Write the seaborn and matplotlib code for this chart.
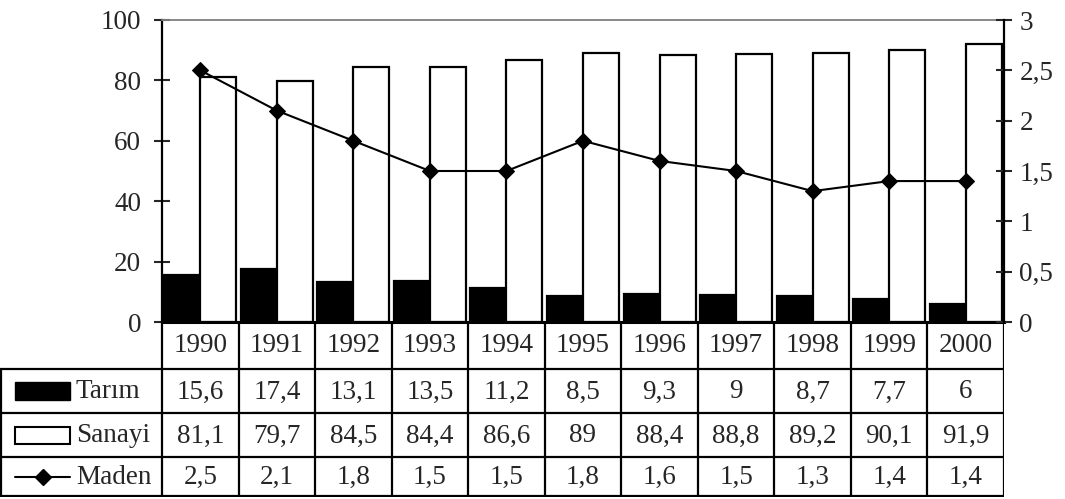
import numpy as np
import pandas as pd
import matplotlib
matplotlib.use("Agg")
import matplotlib.pyplot as plt
from matplotlib.patches import Rectangle
from matplotlib.lines import Line2D
from matplotlib.ticker import FuncFormatter
import seaborn as sns

# data
years = ["1990", "1991", "1992", "1993", "1994", "1995", "1996", "1997", "1998", "1999", "2000"]
tarim = [15.6, 17.4, 13.1, 13.5, 11.2, 8.5, 9.3, 9, 8.7, 7.7, 6]
sanayi = [81.1, 79.7, 84.5, 84.4, 86.6, 89, 88.4, 88.8, 89.2, 90.1, 91.9]
maden = [2.5, 2.1, 1.8, 1.5, 1.5, 1.8, 1.6, 1.5, 1.3, 1.4, 1.4]
series = ["Tarım", "Sanayi", "Maden"]

sns.set_style("white")
plt.rcParams["font.family"] = ["Liberation Serif", "DejaVu Serif"]
FS = 19.5


def tr(v):
    # turkish decimal comma
    return f"{v:g}".replace(".", ",")


df = pd.DataFrame({"year": years * 2,
                   "seri": ["Tarım"] * len(years) + ["Sanayi"] * len(years),
                   "deger": tarim + sanayi})

W, H = 1065, 499
L, R, T, B, TB = 162, 1004, 20, 322, 497
n = len(years)
cw = (R - L) / n

fig = plt.figure(figsize=(W / 100, H / 100), dpi=100)
ax = fig.add_axes([L / W, (H - B) / H, (R - L) / W, (B - T) / H])

sns.barplot(data=df, x="year", y="deger", hue="seri", hue_order=["Tarım", "Sanayi"],
            palette={"Tarım": "black", "Sanayi": "white"}, edgecolor="black",
            linewidth=1.6, width=0.94, legend=False, ax=ax)
ax.set_ylim(0, 100)
ax.set_yticks([0, 20, 40, 60, 80, 100])
ax.set_xlim(-0.5, n - 0.5)
ax.set_xticks([])
ax.set_xlabel("")
ax.set_ylabel("")
ax.tick_params(axis="y", direction="inout", length=12, width=1.5, labelsize=FS, pad=9, left=True)
for s in ["left", "bottom"]:
    ax.spines[s].set_color("black")
ax.spines["left"].set_linewidth(1.6)
ax.spines["bottom"].set_linewidth(2.2)
ax.spines["top"].set_color("#808080")
ax.spines["top"].set_linewidth(1.3)
ax.spines["right"].set_visible(False)

ax2 = ax.twinx()
sns.lineplot(x=np.arange(n), y=maden, ax=ax2, color="black", marker="D",
             markersize=8.5, linewidth=1.5, markeredgecolor="black")
ax2.set_ylim(0, 3)
ax2.set_yticks(np.arange(0, 3.01, 0.5))
ax2.yaxis.set_major_formatter(FuncFormatter(lambda v, p: tr(v)))
ax2.set_xlim(-0.5, n - 0.5)
ax2.tick_params(axis="y", direction="inout", length=12, width=1.5, labelsize=FS, pad=5, right=True)
for s in ["left", "top", "bottom"]:
    ax2.spines[s].set_visible(False)
ax2.spines["right"].set_color("black")
ax2.spines["right"].set_linewidth(1.6)

# data table under the plot
tab = fig.add_axes([0, (H - TB) / H, R / W, (TB - B) / H])
x0 = -0.5 - L / cw
tab.set_xlim(x0, n - 0.5)
tab.set_ylim(TB - B, 0)
tab.axis("off")
rows = [0, 47, 91, 135, TB - B - 1]
lw = 1.6
for i in range(n + 1):
    tab.plot([i - 0.5, i - 0.5], [0, rows[-1]], color="black", lw=lw, solid_capstyle="butt")
tab.plot([x0 + 0.01, x0 + 0.01], [rows[1], rows[-1]], color="black", lw=lw)
for y in rows[1:]:
    tab.plot([x0, n - 0.5], [y, y], color="black", lw=lw)

for i, yr in enumerate(years):
    tab.text(i, (rows[0] + rows[1]) / 2, yr, ha="center", va="center", fontsize=FS)

values = [tarim, sanayi, maden]
px = lambda p: x0 + p / cw
for r, (name, vals) in enumerate(zip(series, values)):
    yc = (rows[r + 1] + rows[r + 2]) / 2
    for i, v in enumerate(vals):
        tab.text(i, yc + 1, tr(v), ha="center", va="center", fontsize=FS)
    tab.text(px(76), yc + 1, name, ha="left", va="center", fontsize=FS)
    if name == "Tarım":
        tab.add_patch(Rectangle((px(15), yc - 9), px(70) - px(15), 18, facecolor="black", edgecolor="black"))
    elif name == "Sanayi":
        tab.add_patch(Rectangle((px(15), yc - 8), px(70) - px(15), 17, facecolor="white",
                                edgecolor="black", lw=1.5))
    else:
        tab.add_line(Line2D([px(15), px(70)], [yc, yc], color="black", lw=1.5))
        tab.add_line(Line2D([px(43)], [yc], color="black", marker="D", markersize=8.5))

fig.savefig("out.png", dpi=100)
